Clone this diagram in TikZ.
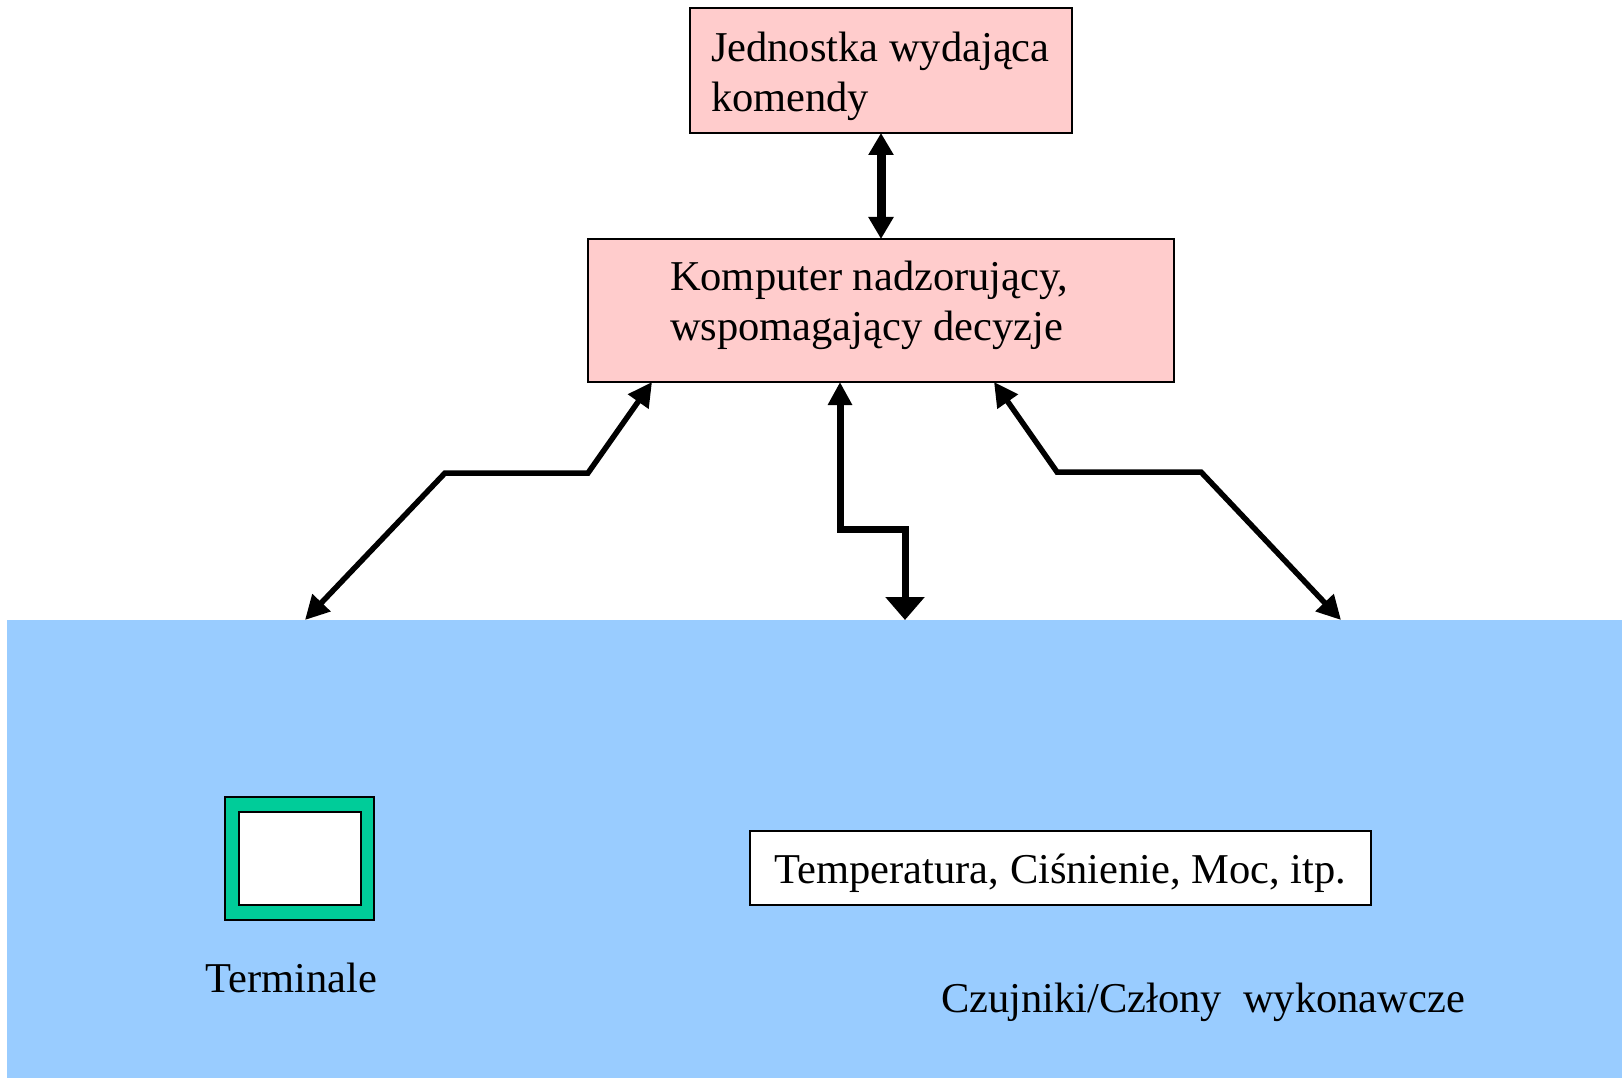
\documentclass[tikz,border=0pt]{standalone}
\usepackage{fontspec}
\setmainfont{Liberation Serif}
\usetikzlibrary{arrows.meta,calc}
\definecolor{boxpink}{HTML}{FFCCCC}
\definecolor{fieldblue}{HTML}{99CCFF}
\definecolor{screengreen}{HTML}{00CC99}
\begin{document}
\begin{tikzpicture}[x=1pt,y=-1pt,
  every node/.style={inner sep=0pt, outer sep=0pt},
  txt/.style={font=\fontsize{42.5}{50}\selectfont, align=left},
  unitbox/.style={draw=black, line width=2pt, fill=boxpink, anchor=north west},
  framebox/.style={draw=black, line width=2pt, anchor=north west},
  link/.style={line width=5.5pt,
    {Triangle[length=24pt,width=24pt]}-{Triangle[length=24pt,width=24pt]}},
  thicklink/.style={line width=9pt,
    {Triangle[length=22pt,width=24pt]}-{Triangle[length=22pt,width=24pt]}},
  buslink/.style={line width=7pt,
    {Triangle[length=23pt,width=23pt]}-{Triangle[length=23pt,width=38pt]}},
]
\useasboundingbox (0,0) rectangle (1622,1078);

% plant field
\node[fill=fieldblue, minimum width=1615pt, minimum height=458pt, anchor=north west]
  (field) at (7,620) {};

% command unit and supervisory computer (base anchor = last line)
\node[unitbox, minimum width=382pt, minimum height=125pt] (cmd) at (690,8) {};
\node[txt, anchor=base west] (cmdText) at (711,112) {Jednostka wydająca\\komendy};

\node[unitbox, minimum width=586pt, minimum height=143pt] (comp) at (588,239) {};
\node[txt, anchor=base west] (compText) at (670,340) {Komputer nadzorujący,\\wspomagający decyzje};

% terminal
\node[framebox, fill=screengreen, minimum width=149pt, minimum height=123pt] (term) at (225,797) {};
\node[framebox, fill=white, minimum width=122pt, minimum height=93pt] (screen) at (239,812) {};
\node[txt, anchor=base] (termLabel) at (291,992) {Terminale};

% measured quantities and sensor label
\node[framebox, fill=white, txt, text height=38pt, text depth=8pt,
  minimum width=621pt, minimum height=74pt] (params) at (750,831)
  {Temperatura, Ciśnienie, Moc, itp.};
\node[txt, anchor=base west] (sensLabel) at (941,1012) {Czujniki/Człony\ \ wykonawcze};

% connector end points
\coordinate (compL) at ($(comp.south west)+(64,0)$);
\coordinate (compM) at ($(comp.south west)+(252,0)$);
\coordinate (compR) at ($(comp.south west)+(406,0)$);
\coordinate (fieldL) at ($(field.north west)+(298,0)$);
\coordinate (fieldM) at ($(field.north west)+(898,0)$);
\coordinate (fieldR) at ($(field.north west)+(1334,0)$);

% connectors
\draw[thicklink] (cmd.south) -- (comp.north);
\draw[link] (compL) -- (588,473) -- (445,473) -- (fieldL);
\draw[buslink] (compM) -- (840,529) -- (905,529) -- (fieldM);
\draw[link] (compR) -- (1057,472) -- (1201,472) -- (fieldR);
\end{tikzpicture}
\end{document}
